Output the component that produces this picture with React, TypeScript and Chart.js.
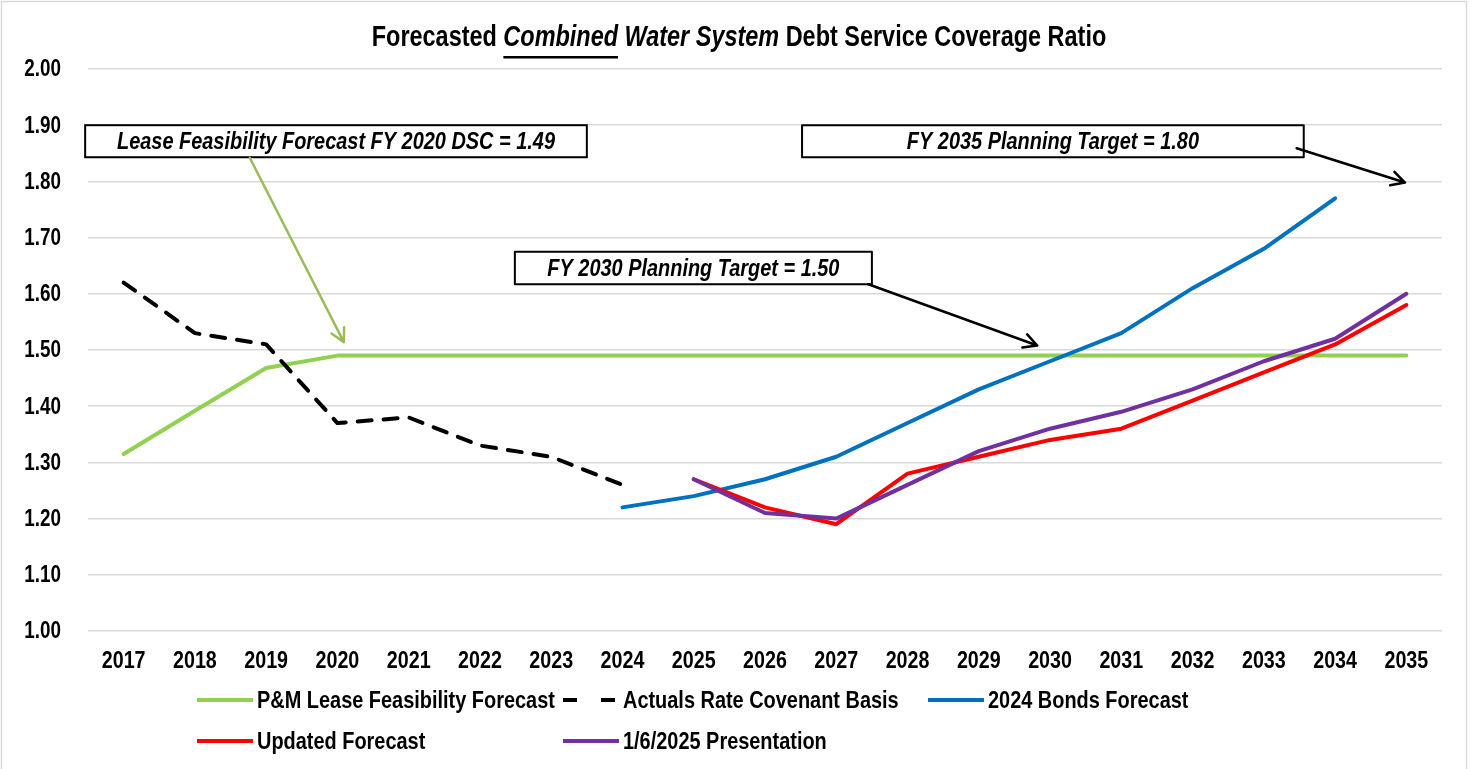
import React, { useEffect, useRef } from "react";
import { Chart, registerables } from "chart.js";

Chart.register(...registerables);

// ---------------- data ----------------
const years = [
  "2017", "2018", "2019", "2020", "2021", "2022", "2023", "2024", "2025", "2026",
  "2027", "2028", "2029", "2030", "2031", "2032", "2033", "2034", "2035",
];

const leaseFeasibilityForecast = [
  1.315, 1.392, 1.468, 1.49, 1.49, 1.49, 1.49, 1.49, 1.49, 1.49,
  1.49, 1.49, 1.49, 1.49, 1.49, 1.49, 1.49, 1.49, 1.49,
];

const actualsRateCovenant = [
  1.62, 1.53, 1.51, 1.37, 1.38, 1.33, 1.31, 1.26, null, null,
  null, null, null, null, null, null, null, null, null,
];

const bonds2024Forecast = [
  null, null, null, null, null, null, null, 1.22, 1.24, 1.27,
  1.31, 1.37, 1.43, 1.48, 1.53, 1.61, 1.68, 1.77, null,
];

const updatedForecast = [
  null, null, null, null, null, null, null, null, 1.27, 1.22,
  1.19, 1.28, 1.31, 1.34, 1.36, 1.41, 1.46, 1.51, 1.58,
];

const presentation20250106 = [
  null, null, null, null, null, null, null, null, 1.27, 1.21,
  1.2, 1.26, 1.32, 1.36, 1.39, 1.43, 1.48, 1.52, 1.6,
];

const seriesLabels = [
  "P&M Lease Feasibility Forecast",
  "Actuals Rate Covenant Basis",
  "2024 Bonds Forecast",
  "Updated Forecast",
  "1/6/2025 Presentation",
];

const yMin = 1.0;
const yMax = 2.0;
const yStep = 0.1;

// callouts: text, box corners and arrow ends in (category index, value) space
const callouts = [
  {
    text: "Lease Feasibility Forecast FY 2020 DSC = 1.49",
    box: [-0.54, 1.9, 6.5, 1.843],
    arrow: [1.77, 1.842, 3.09, 1.514],
    color: "#9BBB59",
  },
  {
    text: "FY 2030 Planning Target = 1.50",
    box: [5.49, 1.675, 10.5, 1.617],
    arrow: [10.45, 1.617, 12.82, 1.508],
    color: "#000000",
  },
  {
    text: "FY 2035 Planning Target = 1.80",
    box: [9.52, 1.9, 16.56, 1.843],
    arrow: [16.46, 1.859, 17.98, 1.798],
    color: "#000000",
  },
];

const FONT = '"Liberation Sans", Arial, sans-serif';
const NARROW = 0.82;

function narrowText(
  ctx: CanvasRenderingContext2D,
  text: string,
  x: number,
  y: number,
  font: string,
  align: CanvasTextAlign,
  baseline: CanvasTextBaseline = "middle"
) {
  ctx.save();
  ctx.font = font;
  ctx.textAlign = align;
  ctx.textBaseline = baseline;
  ctx.translate(x, y);
  ctx.scale(NARROW, 1);
  ctx.fillText(text, 0, 0);
  ctx.restore();
}

function narrowWidth(ctx: CanvasRenderingContext2D, text: string, font: string) {
  ctx.save();
  ctx.font = font;
  const w = ctx.measureText(text).width * NARROW;
  ctx.restore();
  return w;
}

const decorPlugin = {
  id: "decor",
  afterDraw(chart: any) {
    const ctx: CanvasRenderingContext2D = chart.ctx;
    const xs = chart.scales.x;
    const ys = chart.scales.y;
    const area = chart.chartArea;

    ctx.save();
    // outer border
    ctx.strokeStyle = "#D9D9D9";
    ctx.lineWidth = 1.5;
    ctx.strokeRect(1.5, 1.5, 1465, 900);

    ctx.fillStyle = "#000";

    // tick labels
    const yFont = `bold 23px ${FONT}`;
    ys.ticks.forEach((t: any) => {
      const py = ys.getPixelForValue(t.value);
      narrowText(ctx, Number(t.value).toFixed(2), area.left - 27, py + 1, yFont, "right");
    });
    const xFont = `bold 24px ${FONT}`;
    xs.ticks.forEach((t: any) => {
      const px = xs.getPixelForValue(t.value);
      narrowText(ctx, years[t.value], px, area.bottom + 30, xFont, "center");
    });

    // title with mixed styles
    const segs = [
      { t: "Forecasted ", f: "bold", u: false },
      { t: "Combined", f: "italic bold", u: true },
      { t: " ", f: "bold", u: false },
      { t: "Water System", f: "italic bold", u: false },
      { t: " Debt Service Coverage Ratio", f: "bold", u: false },
    ];
    const tSize = 28.6;
    let total = 0;
    for (const s of segs) total += narrowWidth(ctx, s.t, `${s.f} ${tSize}px ${FONT}`);
    let tx = 739 - total / 2;
    const tBase = 46;
    for (const s of segs) {
      const f = `${s.f} ${tSize}px ${FONT}`;
      const w = narrowWidth(ctx, s.t, f);
      narrowText(ctx, s.t, tx, tBase, f, "left", "alphabetic");
      if (s.u) ctx.fillRect(tx, tBase + 10, w, 2.5);
      tx += w;
    }

    // callouts
    for (const c of callouts) {
      const x1 = xs.getPixelForValue(c.box[0]);
      const y1 = ys.getPixelForValue(c.box[1]);
      const x2 = xs.getPixelForValue(c.box[2]);
      const y2 = ys.getPixelForValue(c.box[3]);
      ctx.fillStyle = "#FFFFFF";
      ctx.fillRect(x1, y1, x2 - x1, y2 - y1);
      ctx.strokeStyle = "#000";
      ctx.lineWidth = 2;
      ctx.strokeRect(x1, y1, x2 - x1, y2 - y1);
      ctx.fillStyle = "#000";
      narrowText(ctx, c.text, (x1 + x2) / 2, (y1 + y2) / 2 + 1, `italic bold 24.3px ${FONT}`, "center");

      const ax1 = xs.getPixelForValue(c.arrow[0]);
      const ay1 = ys.getPixelForValue(c.arrow[1]);
      const ax2 = xs.getPixelForValue(c.arrow[2]);
      const ay2 = ys.getPixelForValue(c.arrow[3]);
      const ang = Math.atan2(ay2 - ay1, ax2 - ax1);
      ctx.strokeStyle = c.color;
      ctx.lineWidth = 2.5;
      ctx.lineCap = "round";
      ctx.lineJoin = "round";
      ctx.beginPath();
      ctx.moveTo(ax1, ay1);
      ctx.lineTo(ax2, ay2);
      const wl = 15;
      const wa = (28 * Math.PI) / 180;
      ctx.moveTo(ax2 - wl * Math.cos(ang - wa), ay2 - wl * Math.sin(ang - wa));
      ctx.lineTo(ax2, ay2);
      ctx.lineTo(ax2 - wl * Math.cos(ang + wa), ay2 - wl * Math.sin(ang + wa));
      ctx.stroke();
    }

    // legend (grid of 3 columns)
    const colX = [197, 563, 928];
    const rowY = [700, 741];
    chart.data.datasets.forEach((ds: any, i: number) => {
      const cx = colX[i % 3];
      const cy = rowY[Math.floor(i / 3)];
      ctx.strokeStyle = ds.borderColor;
      ctx.lineWidth = 4;
      ctx.lineCap = "butt";
      ctx.setLineDash(ds.borderDash && ds.borderDash.length ? [14, 24] : []);
      ctx.beginPath();
      ctx.moveTo(cx, cy);
      ctx.lineTo(cx + 56, cy);
      ctx.stroke();
      ctx.setLineDash([]);
      ctx.fillStyle = "#000";
      narrowText(ctx, ds.label, cx + 60, cy + 1, `bold 24.3px ${FONT}`, "left");
    });
    ctx.restore();
  },
};

export default function App() {
  const ref = useRef<HTMLCanvasElement | null>(null);

  useEffect(() => {
    if (!ref.current) return;
    const mk = (label: string, data: any[], color: string, order: number, dash: number[] = []) => ({
      label,
      data,
      borderColor: color,
      backgroundColor: color,
      borderWidth: 4,
      borderDash: dash,
      pointRadius: 0,
      pointHoverRadius: 0,
      tension: 0,
      spanGaps: false,
      order,
      borderCapStyle: "round" as const,
      borderJoinStyle: "round" as const,
    });
    const chart = new Chart(ref.current, {
      type: "line",
      data: {
        labels: years,
        datasets: [
          mk(seriesLabels[0], leaseFeasibilityForecast, "#92D050", 5),
          mk(seriesLabels[1], actualsRateCovenant, "#000000", 4, [14, 12]),
          mk(seriesLabels[2], bonds2024Forecast, "#0070C0", 3),
          mk(seriesLabels[3], updatedForecast, "#FF0000", 2),
          mk(seriesLabels[4], presentation20250106, "#7030A0", 1),
        ],
      },
      options: {
        responsive: false,
        animation: false,
        events: [],
        layout: { padding: { top: 69, right: 31, bottom: 98, left: 0 } },
        plugins: {
          legend: { display: false },
          title: { display: false },
          tooltip: { enabled: false },
        },
        scales: {
          x: {
            type: "category",
            offset: true,
            grid: { display: false, drawTicks: false },
            border: { display: false },
            ticks: { display: false, autoSkip: false, maxRotation: 0 },
            afterFit: (s: any) => {
              s.height = 40;
            },
          },
          y: {
            min: yMin,
            max: yMax,
            grid: { color: "#D9D9D9", lineWidth: 1.5, drawTicks: false },
            border: { display: false },
            ticks: { display: false, stepSize: yStep },
            afterFit: (s: any) => {
              s.width = 88;
            },
          },
        },
      },
      plugins: [decorPlugin],
    });
    return () => chart.destroy();
  }, []);

  return (
    <div style={{ position: "absolute", left: 0, top: 0, width: 1473, height: 769, background: "#fff" }}>
      <canvas ref={ref} width={1473} height={769} style={{ display: "block" }} />
    </div>
  );
}
